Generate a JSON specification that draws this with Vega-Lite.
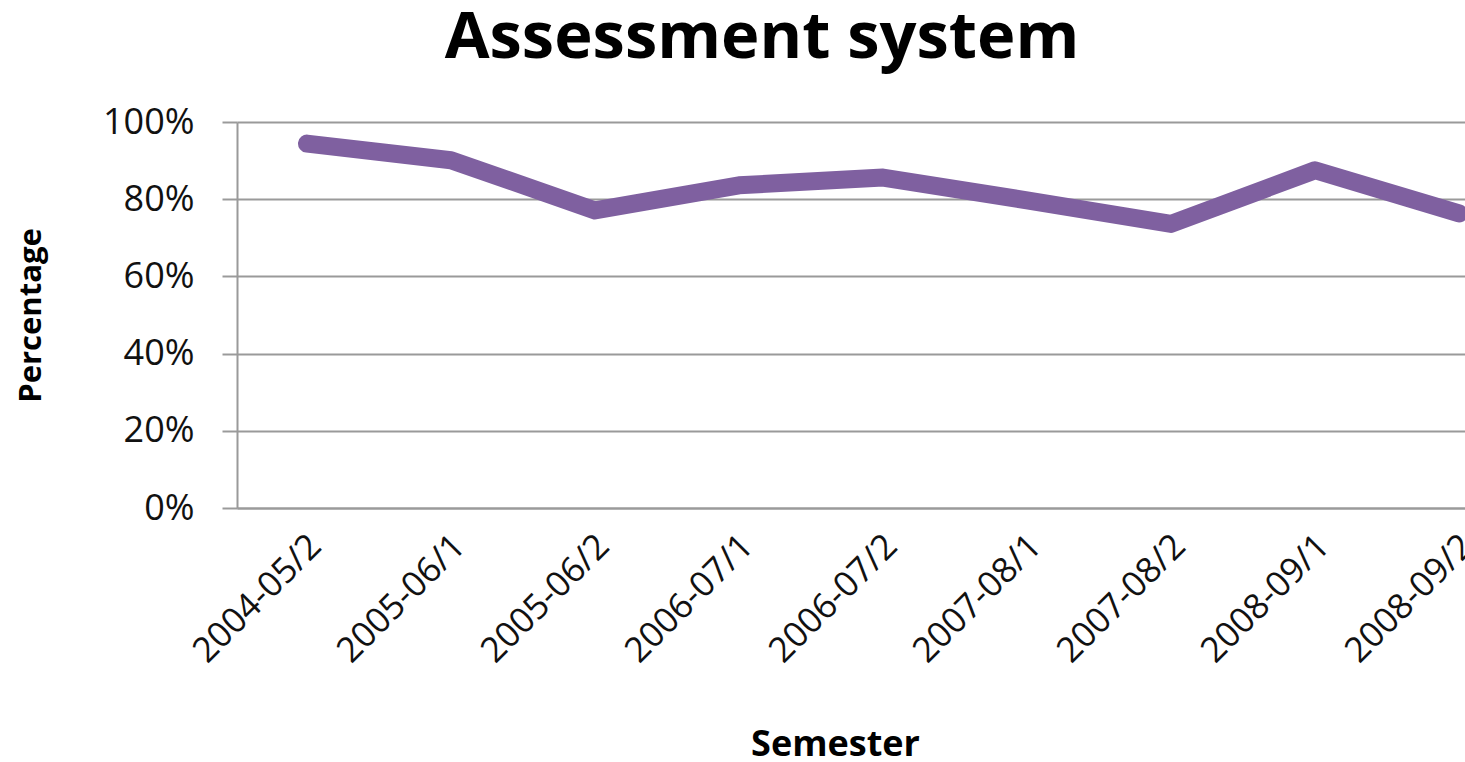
{
  "$schema": "https://vega.github.io/schema/vega-lite/v6.json",
  "autosize": "none",
  "width": 1292,
  "height": 386,
  "padding": {"left": 237, "top": 122, "right": -64, "bottom": 254},
  "background": "white",
  "title": {
    "text": "Assessment system",
    "font": "Open Sans",
    "fontSize": 65,
    "fontWeight": "bold",
    "color": "#000000",
    "anchor": "middle",
    "dx": -121,
    "offset": 32
  },
  "data": {
    "values": [
      {"Semester": "2004-05/2", "Percentage": 0.944},
      {"Semester": "2005-06/1", "Percentage": 0.901},
      {"Semester": "2005-06/2", "Percentage": 0.771},
      {"Semester": "2006-07/1", "Percentage": 0.836},
      {"Semester": "2006-07/2", "Percentage": 0.856},
      {"Semester": "2007-08/1", "Percentage": 0.797},
      {"Semester": "2007-08/2", "Percentage": 0.736},
      {"Semester": "2008-09/1", "Percentage": 0.875},
      {"Semester": "2008-09/2", "Percentage": 0.763}
    ]
  },
  "mark": {"type": "line", "color": "#7F60A0", "strokeWidth": 18, "strokeCap": "round", "strokeJoin": "round"},
  "encoding": {
    "x": {
      "field": "Semester",
      "type": "ordinal",
      "sort": null,
      "scale": {"type": "point", "padding": 0.486},
      "axis": {
        "title": "Semester",
        "titleFont": "Open Sans",
        "titleFontSize": 36,
        "titleFontWeight": "bold",
        "titleColor": "#000000",
        "titleX": 598,
        "titleY": 247,
        "titleBaseline": "alphabetic",
        "titleAlign": "center",
        "labelFont": "Open Sans",
        "labelFontSize": 35,
        "labelColor": "#111111",
        "labelAngle": -45,
        "labelAlign": "right",
        "labelBaseline": "middle",
        "labelPadding": 32,
        "labelOffset": 8,
        "ticks": false,
        "domain": true,
        "domainColor": "#9a9a9a",
        "domainWidth": 2,
        "grid": false
      }
    },
    "y": {
      "field": "Percentage",
      "type": "quantitative",
      "scale": {"domain": [0, 1]},
      "axis": {
        "title": "Percentage",
        "titleFont": "Open Sans",
        "titleFontSize": 31,
        "titleFontWeight": "bold",
        "titleColor": "#000000",
        "titleAngle": -90,
        "titleX": -197,
        "titleY": 193,
        "titleBaseline": "alphabetic",
        "titleAlign": "center",
        "values": [0, 0.2, 0.4, 0.6, 0.8, 1],
        "format": ".0%",
        "labelFont": "Open Sans",
        "labelFontSize": 36,
        "labelColor": "#111111",
        "labelPadding": 28,
        "tickSize": 15,
        "tickColor": "#9a9a9a",
        "tickWidth": 2,
        "domain": true,
        "domainColor": "#9a9a9a",
        "domainWidth": 2,
        "grid": true,
        "gridColor": "#9a9a9a",
        "gridWidth": 2
      }
    }
  },
  "config": {"view": {"stroke": null}}
}
